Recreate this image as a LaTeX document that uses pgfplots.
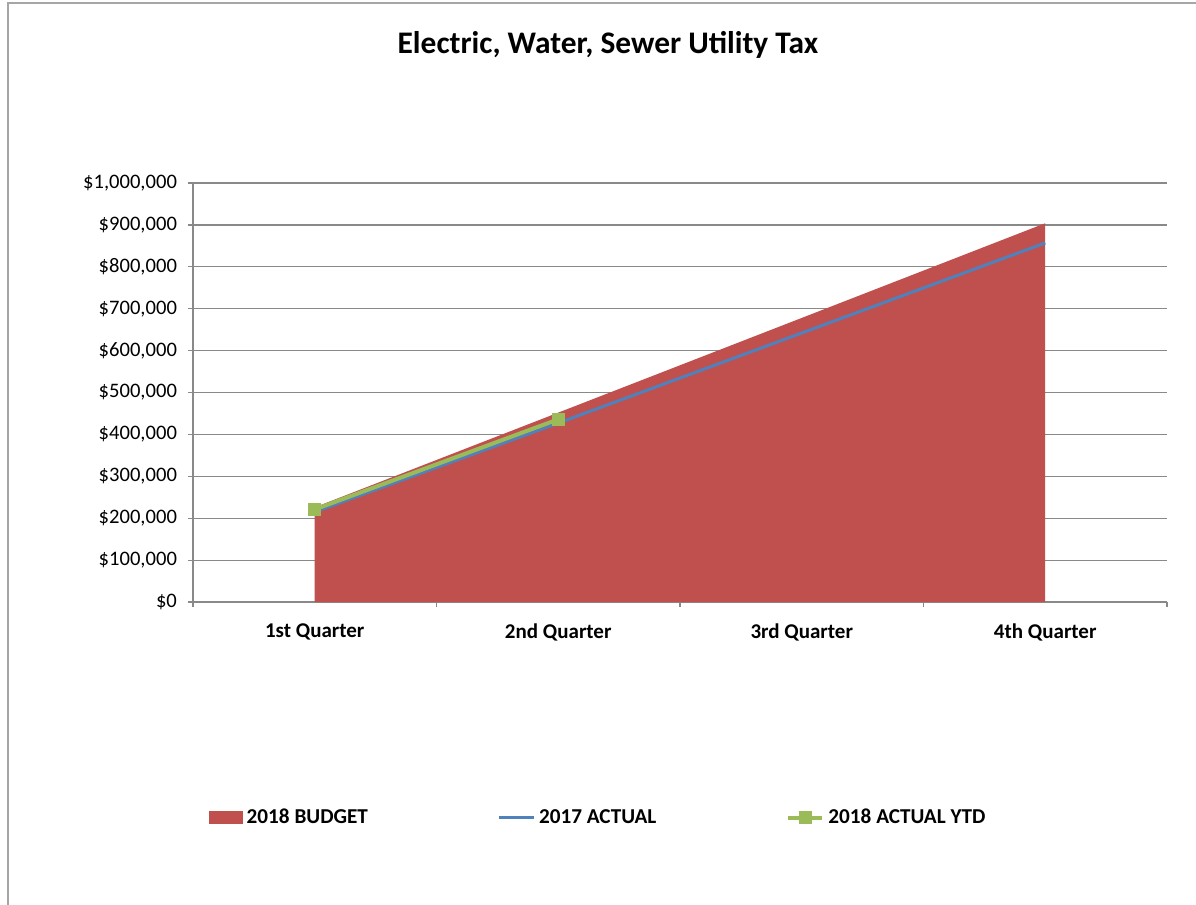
\documentclass[border=0pt]{standalone}
\usepackage{fontspec}
\setmainfont{Carlito}
\usepackage{pgfplots}
\pgfplotsset{compat=1.18}
\definecolor{budget}{HTML}{C0504D}
\definecolor{actA}{HTML}{4F81BD}
\definecolor{actB}{HTML}{9BBB59}
\definecolor{gridc}{HTML}{898989}
\begin{document}
\begin{tikzpicture}
\begin{axis}[at={(0pt,0pt)}, anchor=south west, scale only axis,
  width=487pt, height=209.5pt,
  xmin=-0.5, xmax=3.5, ymin=0, ymax=1000000,
  axis x line*=bottom, axis y line*=left,
  axis line style={gridc, line width=0.6pt, -},
  tick style={gridc, line width=0.6pt},
  tick align=outside, major tick length=2.5pt,
  xtick={-0.5,0.5,1.5,2.5,3.5}, xticklabels={},
  extra x ticks={0,1,2,3},
  extra x tick labels={1st Quarter,2nd Quarter,3rd Quarter,4th Quarter},
  extra x tick style={major tick length=0pt, grid=none,
    tick label style={font=\bfseries\fontsize{10.5}{12}\selectfont, yshift=-7.5pt}},
  ytick={0,100000,200000,300000,400000,500000,600000,700000,800000,900000,1000000},
  yticklabels={\$0,\$100{,}000,\$200{,}000,\$300{,}000,\$400{,}000,\$500{,}000,\$600{,}000,\$700{,}000,\$800{,}000,\$900{,}000,\$1{,}000{,}000},
  yticklabel style={font=\fontsize{10.3}{12}\selectfont, xshift=-2pt},
  scaled y ticks=false,
  ymajorgrids, grid style={gridc, line width=0.6pt},
  legend columns=3,
  legend style={at={(0.0098,-0.515)}, anchor=west, draw=none, fill=none,
    font=\bfseries\fontsize{10.6}{12}\selectfont,
    /tikz/every even column/.append style={column sep=63pt}},
]
\addlegendimage{legend image code/.code={\fill[budget] (0pt,-3pt) rectangle (16.5pt,3pt);}}
\addlegendentry{2018 BUDGET}
\addlegendimage{actA, line width=1.5pt}
\addlegendentry{2017 ACTUAL}
\addlegendimage{actB, line width=2pt, mark=square*, mark size=2.3pt}
\addlegendentry{2018 ACTUAL YTD}
\addplot[fill=budget, draw=none, forget plot] coordinates {(0,226000) (1,452000) (2,678000) (3,904000)} \closedcycle;
\addplot[actA, line width=1.5pt, no marks, forget plot] coordinates {(0,215000) (1,427000) (2,642000) (3,857000)};
\addplot[actB, line width=2pt, mark=square*, mark size=2.3pt, forget plot] coordinates {(0,221000) (1,436000)};
\end{axis}
\useasboundingbox (-96.5pt,301pt) rectangle (501.5pt,-151.5pt);
\draw[gray!70, line width=0.6pt] (-92.5pt,-151.5pt) -- (-92.5pt,299.5pt) -- (501.5pt,299.5pt);
\node[font=\bfseries\fontsize{15.7}{18}\selectfont] at (207.5pt,278.5pt) {Electric, Water, Sewer Utility Tax};
\end{tikzpicture}
\end{document}
